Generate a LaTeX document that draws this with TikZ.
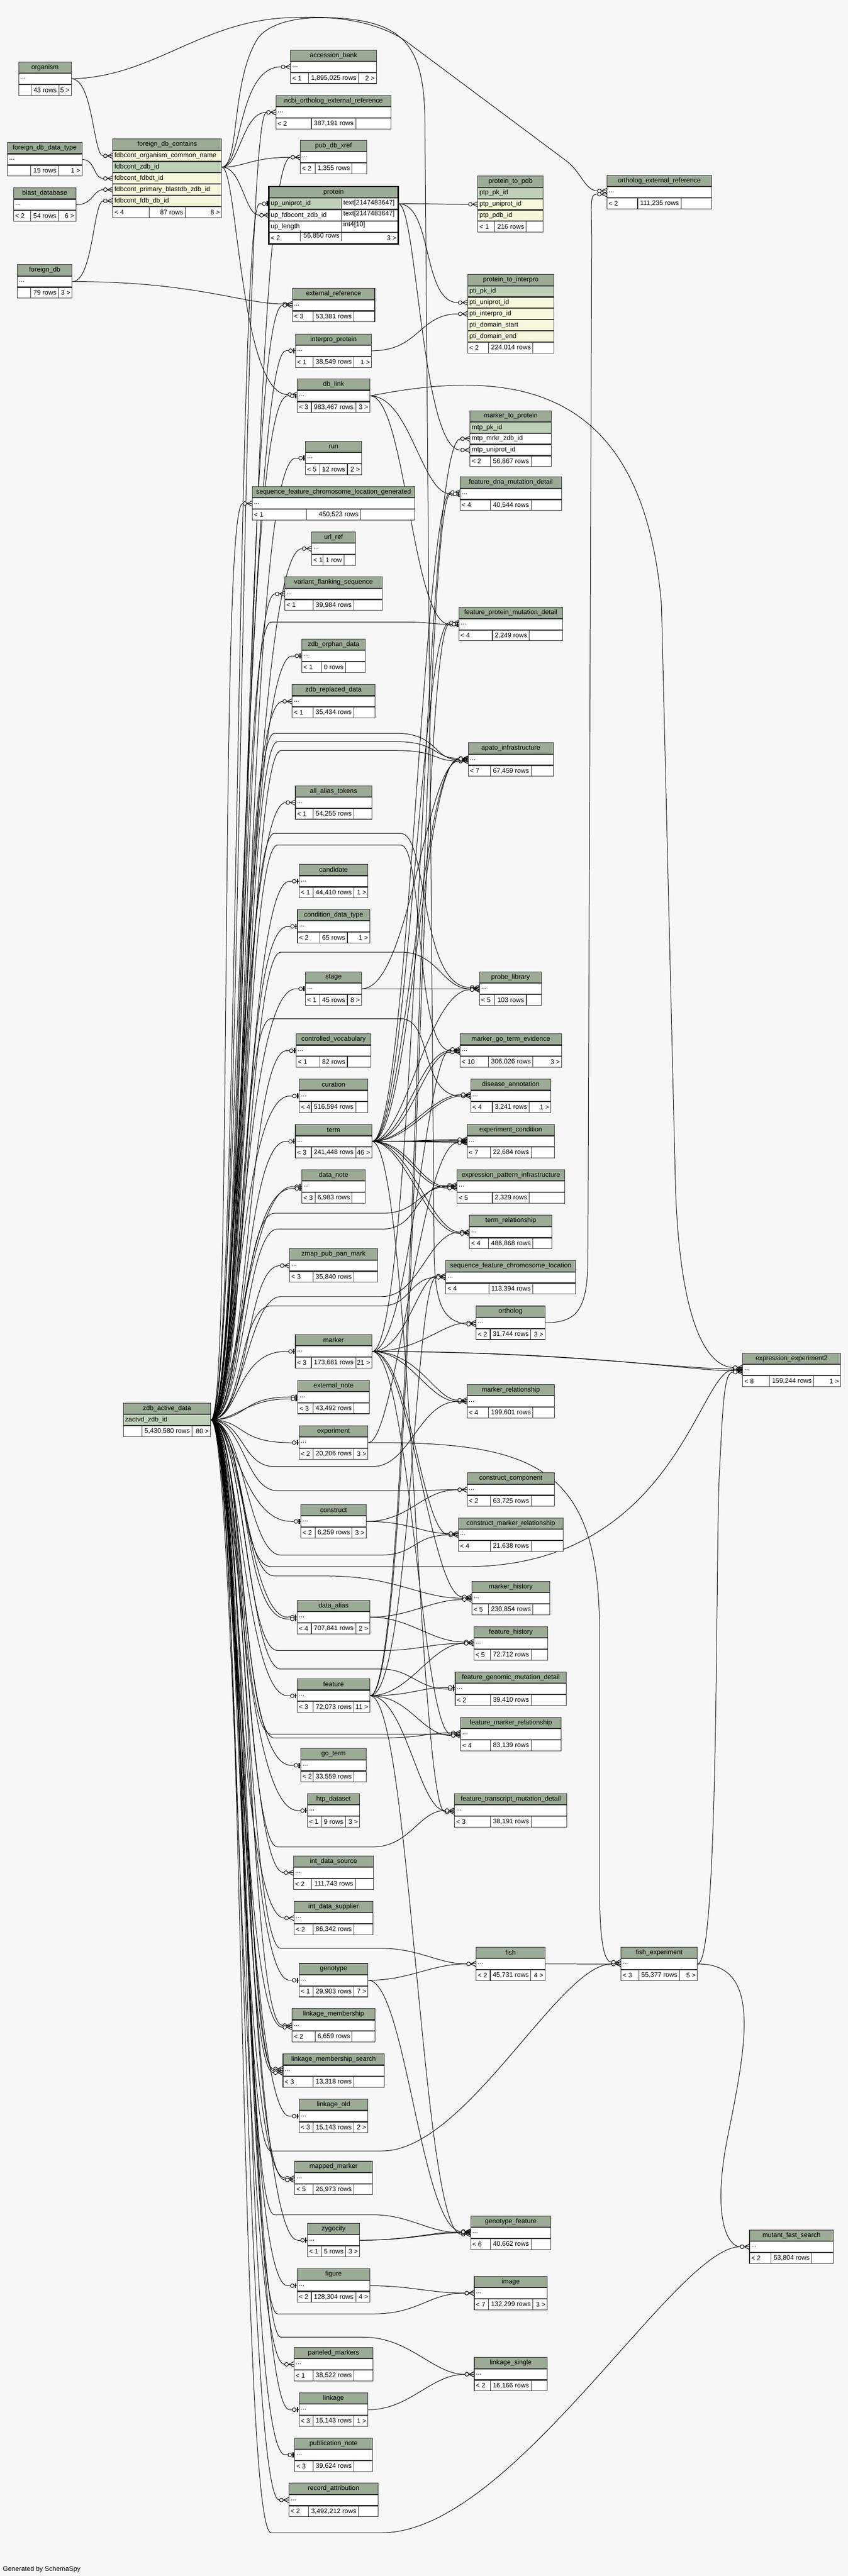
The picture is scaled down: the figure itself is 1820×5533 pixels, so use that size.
\documentclass[tikz,border=0pt]{standalone}
\usepackage{fontspec}
\setmainfont{Liberation Sans}
\pgfdeclarelayer{bg}
\pgfdeclarelayer{edges}
\pgfsetlayers{bg,edges,main}
\definecolor{bgc}{HTML}{F7F7F7}
\definecolor{hdrc}{HTML}{9BAB96}
\definecolor{pkc}{HTML}{BED1B8}
\definecolor{idxc}{HTML}{F4F7DA}
\definecolor{framec}{HTML}{2E2E2E}
\newcommand{\tfont}{\fontsize{14.2}{17}\selectfont}
\tikzset{
  every node/.style={font=\tfont},
  cellbox/.style={draw=framec, line width=1.2pt, inner sep=0pt, anchor=north, minimum height=23pt},
  hdr/.style={cellbox, fill=hdrc, minimum height=23.5pt},
  body/.style={cellbox, fill=white},
  foot/.style={cellbox, fill=white},
  midcell/.style={draw=framec, line width=1.2pt, inner xsep=5pt, inner ysep=0pt, minimum height=23pt},
  txt/.style={inner sep=0pt},
  fkline/.style={line width=1.1pt, black}
}
% table parts
\newcommand{\tblhead}[4]{\node[hdr, minimum width=#4pt] (#1-h) at (#2,#3) {\detokenize{#1}};}
\newcommand{\tblfoot}[6]{%
  \node[foot, minimum width=#3pt] (#1-f) at (#2.south) {};
  \node[midcell, minimum width=#3pt/3] (#1-m) at (#1-f.center) {\phantom{#5}};
  \node[txt, anchor=east] at ([xshift=-5pt]#1-m.east) {#5};
  \node[txt, anchor=west] at ([xshift=4pt]#1-f.west) {#4};
  \node[txt, anchor=east] at ([xshift=-4pt]#1-f.east) {#6};}
\newcommand{\tbl}[7]{%
  \tblhead{#1}{#2}{#3}{#4}
  \node[body, minimum width=#4pt] (#1) at (#1-h.south) {};
  \node[txt, anchor=west] at ([xshift=4pt]#1.west) {...};
  \tblfoot{#1}{#1}{#4}{#5}{#6}{#7}}
\newcommand{\colrow}[5]{%
  \node[body, fill=#4, minimum width=#5pt] (#1) at (#2.south) {};
  \node[txt, anchor=west] at ([xshift=4pt]#1.west) {\detokenize{#3}};}
% connector ends
\newcommand{\fkmarkmany}[1]{%
  \draw[fkline] ([xshift=-20pt]#1) -- (#1);
  \draw[fkline, fill=bgc] ([xshift=-15.5pt]#1) circle (4pt);
  \draw[fkline] ([xshift=-11pt]#1) -- ([yshift=5.5pt]#1) ([xshift=-11pt]#1) -- ([yshift=-5.5pt]#1);}
\newcommand{\fkmarkone}[1]{%
  \draw[fkline] ([xshift=-20pt]#1) -- (#1);
  \draw[fkline, fill=bgc] ([xshift=-10pt]#1) circle (4pt);
  \draw[line width=2.6pt] ([xshift=-3pt,yshift=5.5pt]#1) -- ([xshift=-3pt,yshift=-5.5pt]#1);}
\newcommand{\fk}[6][0]{%
  \coordinate (fk-s) at (#2);
  \coordinate (fk-e) at ([yshift=#1pt]#3);
  \coordinate (fk-a) at (#5,0);
  \coordinate (fk-b) at (#6,0);
  \draw[fkline] (fk-s) .. controls (fk-s -| fk-a) and (fk-e -| fk-b) .. ([xshift=-20pt]fk-e);
  \csname fkmark#4\endcsname{fk-e}}
\newcommand{\fkvia}[8][0]{%
  \coordinate (fk-e) at ([yshift=#1pt]#2);
  \coordinate (fk-c) at (#8,0);
  \draw[fkline] (zad.east) .. controls +(70,0) and (#5,#4) .. (#5+70,#4) -- (#6,#4)
    .. controls (#7,#4) and (fk-e -| fk-c) .. ([xshift=-20pt]fk-e);
  \csname fkmark#3\endcsname{fk-e}}

\begin{document}
\begin{tikzpicture}[x=1pt, y=-1pt]
  \useasboundingbox (0,0) rectangle (1820,5533);
  \begin{pgfonlayer}{bg}
    \fill[bgc] (0,0) rectangle (1820,5533);
  \end{pgfonlayer}

  \tbl{organism}{96.5}{132.5}{113}{}{43 rows}{5 >}
  \tbl{foreign_db_data_type}{96}{305.7}{160}{}{15 rows}{1 >}
  \tbl{blast_database}{96}{403}{133.5}{< 2}{54 rows}{6 >}
  \tbl{foreign_db}{96}{568}{117.6}{}{79 rows}{3 >}

  \tblhead{foreign_db_contains}{359}{298}{233.5}
  \colrow{fdbc-org}{foreign_db_contains-h}{fdbcont_organism_common_name}{idxc}{233.5}
  \colrow{fdbc-zdb}{fdbc-org}{fdbcont_zdb_id}{pkc}{233.5}
  \colrow{fdbc-dt}{fdbc-zdb}{fdbcont_fdbdt_id}{idxc}{233.5}
  \colrow{fdbc-blast}{fdbc-dt}{fdbcont_primary_blastdb_zdb_id}{idxc}{233.5}
  \colrow{fdbc-db}{fdbc-blast}{fdbcont_fdb_db_id}{idxc}{233.5}
  \tblfoot{foreign_db_contains}{fdbc-db}{233.5}{< 4}{87 rows}{8 >}

  \tblhead{zdb_active_data}{358.5}{3013}{187}
  \colrow{zad}{zdb_active_data-h}{zactvd_zdb_id}{pkc}{187}
  \tblfoot{zdb_active_data}{zad}{187}{}{5,430,580 rows}{80 >}

  \node[hdr, minimum width=277pt] (protein-h) at (716,400.5) {protein};
  \node[body, minimum width=277pt, minimum height=23.5pt] (prot-uid) at (protein-h.south) {};
  \node[body, minimum width=277pt, minimum height=23.5pt] (prot-fdb) at (prot-uid.south) {};
  \node[body, minimum width=277pt, minimum height=23.5pt] (prot-len) at (prot-fdb.south) {};
  \node[foot, minimum width=277pt, minimum height=23.5pt] (protein-f) at (prot-len.south) {};
  \node[body, fill=pkc, minimum width=155.5pt, minimum height=23.5pt, anchor=north west] at (prot-uid.north west) {};
  \draw[framec, line width=1.2pt] (733,424) -- (733,518) (645,494.5) -- (645,518);
  \node[txt, anchor=west] at ([xshift=4pt]prot-uid.west) {up\_uniprot\_id};
  \node[txt, anchor=west] at ([xshift=4pt]prot-fdb.west) {up\_fdbcont\_zdb\_id};
  \node[txt, anchor=west] at ([xshift=4pt]prot-len.west) {up\_length};
  \node[txt, anchor=west] at (737,435.75) {text[2147483647]};
  \node[txt, anchor=west] at (737,459.25) {text[2147483647]};
  \node[txt, anchor=west] at (737,482.75) {int4[10]};
  \node[txt, anchor=west] at ([xshift=4pt]protein-f.west) {< 2};
  \node[txt, anchor=east] at (729,506.25) {56,850 rows};
  \node[txt, anchor=east] at ([xshift=-4pt]protein-f.east) {3 >};
  \draw[line width=3pt] (protein-h.north west) rectangle (protein-f.south east);

  \tbl{accession_bank}{716}{106.8}{184}{< 1}{1,895,025 rows}{2 >}
  \tbl{ncbi_ortholog_external_reference}{716}{204.5}{247}{< 2}{387,191 rows}{}
  \tbl{pub_db_xref}{716}{301}{142.5}{< 2}{1,355 rows}{}
  \tbl{external_reference}{716}{619}{177}{< 3}{53,381 rows}{}
  \tbl{interpro_protein}{716}{716.6}{163.5}{< 1}{38,549 rows}{1 >}
  \tbl{db_link}{716}{813.6}{156}{< 3}{983,467 rows}{3 >}
  \tbl{run}{716}{947}{120.4}{< 5}{12 rows}{2 >}
  \tbl{sequence_feature_chromosome_location_generated}{716}{1044.7}{349}{< 1}{450,523 rows}{}
  \tbl{url_ref}{716}{1141.6}{94}{< 1}{1 row}{}
  \tbl{variant_flanking_sequence}{716}{1238.6}{209.7}{< 1}{39,984 rows}{}
  \tbl{zdb_orphan_data}{716}{1372}{136.6}{< 1}{0 rows}{}
  \tbl{zdb_replaced_data}{716}{1469.7}{177.5}{< 1}{35,434 rows}{}
  \tbl{all_alias_tokens}{716}{1687}{163.8}{< 1}{54,255 rows}{}
  \tbl{candidate}{716}{1856}{148}{< 1}{44,410 rows}{1 >}
  \tbl{condition_data_type}{716}{1953}{155}{< 2}{65 rows}{1 >}
  \tbl{stage}{716}{2087}{120.4}{< 1}{45 rows}{8 >}
  \tbl{controlled_vocabulary}{716}{2220}{160.3}{< 1}{82 rows}{}
  \tbl{curation}{716}{2317.3}{147}{< 4}{516,594 rows}{}
  \tbl{term}{716}{2414.8}{163.8}{< 3}{241,448 rows}{46 >}
  \tbl{data_note}{716}{2512}{136.6}{< 3}{6,983 rows}{}
  \tbl{zmap_pub_pan_mark}{716}{2681.6}{188.3}{< 3}{35,840 rows}{}
  \tbl{marker}{716}{2866}{163.8}{< 3}{173,681 rows}{21 >}
  \tbl{external_note}{716}{2964}{153}{< 3}{43,492 rows}{}
  \tbl{experiment}{716}{3061.7}{148}{< 2}{20,206 rows}{3 >}
  \tbl{construct}{716}{3231}{140.3}{< 2}{6,259 rows}{3 >}
  \tbl{data_alias}{716}{3436.6}{156}{< 4}{707,841 rows}{2 >}
  \tbl{feature}{716}{3605.5}{156}{< 3}{72,073 rows}{11 >}
  \tbl{go_term}{716}{3755}{140.3}{< 2}{33,559 rows}{}
  \tbl{htp_dataset}{716}{3852}{112}{< 1}{9 rows}{3 >}
  \tbl{int_data_source}{716}{3985.5}{172}{< 2}{111,743 rows}{}
  \tbl{int_data_supplier}{716}{4083}{169.5}{< 2}{86,342 rows}{}
  \tbl{genotype}{716}{4216.6}{148}{< 1}{29,903 rows}{7 >}
  \tbl{linkage_membership}{716}{4313.6}{177.5}{< 2}{6,659 rows}{}
  \tbl{linkage_membership_search}{716}{4411}{217}{< 3}{13,318 rows}{}
  \tbl{linkage_old}{716}{4508.5}{148}{< 3}{15,143 rows}{2 >}
  \tbl{mapped_marker}{716}{4641.5}{166.3}{< 5}{26,973 rows}{}
  \tbl{zygocity}{716}{4775}{112}{< 1}{5 rows}{3 >}
  \tbl{figure}{716}{4872.6}{156}{< 2}{128,304 rows}{4 >}
  \tbl{paneled_markers}{716}{5041.5}{169.5}{< 1}{38,522 rows}{}
  \tbl{linkage}{716}{5139}{148}{< 3}{15,143 rows}{1 >}
  \tbl{publication_note}{716}{5236}{166.3}{< 3}{39,624 rows}{}
  \tbl{record_attribution}{716}{5333}{191.7}{< 2}{3,492,212 rows}{}

  \tblhead{protein_to_pdb}{1095.9}{377.8}{140.3}
  \colrow{ptp-pk}{protein_to_pdb-h}{ptp_pk_id}{pkc}{140.3}
  \colrow{ptp-uid}{ptp-pk}{ptp_uniprot_id}{idxc}{140.3}
  \colrow{ptp-pdb}{ptp-uid}{ptp_pdb_id}{idxc}{140.3}
  \tblfoot{protein_to_pdb}{ptp-pdb}{140.3}{< 1}{216 rows}{}

  \tblhead{protein_to_interpro}{1096.5}{589}{185}
  \colrow{pti-pk}{protein_to_interpro-h}{pti_pk_id}{pkc}{185}
  \colrow{pti-uid}{pti-pk}{pti_uniprot_id}{idxc}{185}
  \colrow{pti-iid}{pti-uid}{pti_interpro_id}{idxc}{185}
  \colrow{pti-start}{pti-iid}{pti_domain_start}{idxc}{185}
  \colrow{pti-end}{pti-start}{pti_domain_end}{idxc}{185}
  \tblfoot{protein_to_interpro}{pti-end}{185}{< 2}{224,014 rows}{}

  \tblhead{marker_to_protein}{1096.5}{881.4}{175}
  \colrow{mtp-pk}{marker_to_protein-h}{mtp_pk_id}{pkc}{175}
  \colrow{mtp-mrkr}{mtp-pk}{mtp_mrkr_zdb_id}{white}{175}
  \colrow{mtp-uid}{mtp-mrkr}{mtp_uniprot_id}{white}{175}
  \tblfoot{marker_to_protein}{mtp-uid}{175}{< 2}{56,867 rows}{}

  \tbl{feature_dna_mutation_detail}{1096.5}{1024}{217.8}{< 4}{40,544 rows}{}
  \tbl{feature_protein_mutation_detail}{1096.5}{1304}{223}{< 4}{2,249 rows}{}
  \tbl{apato_infrastructure}{1096.5}{1595}{182.8}{< 7}{67,459 rows}{}
  \tbl{probe_library}{1096}{2087}{133}{< 5}{103 rows}{}
  \tbl{marker_go_term_evidence}{1096.5}{2220}{217.8}{< 10}{306,026 rows}{3 >}
  \tbl{disease_annotation}{1096.5}{2317.3}{172}{< 4}{3,241 rows}{1 >}
  \tbl{experiment_condition}{1096.5}{2414.8}{187.4}{< 7}{22,684 rows}{}
  \tbl{expression_pattern_infrastructure}{1096.5}{2512}{230.7}{< 5}{2,329 rows}{}
  \tbl{term_relationship}{1096.5}{2609.7}{177}{< 4}{486,868 rows}{}
  \tbl{sequence_feature_chromosome_location}{1096.5}{2707}{279}{< 4}{113,394 rows}{}
  \tbl{ortholog}{1096}{2804.6}{148}{< 2}{31,744 rows}{3 >}
  \tbl{marker_relationship}{1096.5}{2973.5}{187.4}{< 4}{199,601 rows}{}
  \tbl{construct_component}{1096.5}{3163}{187.4}{< 2}{63,725 rows}{}
  \tbl{construct_marker_relationship}{1096.5}{3260}{225.3}{< 4}{21,638 rows}{}
  \tbl{marker_history}{1096.5}{3396}{167}{< 5}{230,854 rows}{}
  \tbl{feature_history}{1096.5}{3493}{159}{< 5}{72,712 rows}{}
  \tbl{feature_genomic_mutation_detail}{1096.5}{3590.7}{238.8}{< 2}{39,410 rows}{}
  \tbl{feature_marker_relationship}{1096.5}{3688}{215.2}{< 4}{83,139 rows}{}
  \tbl{feature_transcript_mutation_detail}{1096.5}{3852}{241.3}{< 3}{38,191 rows}{}
  \tbl{fish}{1096}{4181.4}{148}{< 2}{45,731 rows}{4 >}
  \tbl{genotype_feature}{1096.5}{4759}{172}{< 6}{40,662 rows}{}
  \tbl{image}{1096.3}{4888.5}{156.5}{< 7}{132,299 rows}{3 >}
  \tbl{linkage_single}{1096.3}{5063}{156.5}{< 2}{16,166 rows}{}

  \tbl{ortholog_external_reference}{1415.4}{376.3}{225.3}{< 2}{111,235 rows}{}
  \tbl{fish_experiment}{1415}{4181.7}{164}{< 3}{55,377 rows}{5 >}
  \tbl{expression_experiment2}{1699.4}{2905.5}{210}{< 8}{159,244 rows}{1 >}
  \tbl{mutant_fast_search}{1699}{4789}{180}{< 2}{53,804 rows}{}

  \node[txt, anchor=west] (credit) at (6,5519) {Generated by SchemaSpy};

  \begin{pgfonlayer}{edges}
    \fk{organism.east}{fdbc-org.west}{many}{200}{200}
    \fk{foreign_db_data_type.east}{fdbc-dt.west}{many}{205}{200}
    \fk{blast_database.east}{fdbc-blast.west}{many}{200}{200}
    \fk{foreign_db.east}{fdbc-db.west}{many}{200}{200}
    \fk[3]{foreign_db.east}{external_reference.west}{many}{420}{520}
    \foreach \ch/\dy/\xa/\xb in {accession_bank/0/520/510, ncbi_ortholog_external_reference/0/515/520,
        pub_db_xref/0/525/540, prot-fdb/0/520/525, db_link/3/510/515}
      {\fk[\dy]{fdbc-zdb.east}{\ch.west}{many}{\xa}{\xb}}

    \foreach \ch/\mk/\dy [count=\i] in {ncbi_ortholog_external_reference/many/0, pub_db_xref/many/0,
        prot-uid/one/0, external_reference/many/0, interpro_protein/one/0, db_link/one/0, run/one/0,
        url_ref/many/0, variant_flanking_sequence/many/0, zdb_orphan_data/one/0,
        zdb_replaced_data/many/0, all_alias_tokens/many/0, candidate/one/0,
        condition_data_type/one/0, stage/one/0, controlled_vocabulary/one/0, curation/one/0,
        term/one/0, data_note/one/0, data_note/one/-4, zmap_pub_pan_mark/many/0,
        marker/one/0, external_note/one/0, external_note/one/-4, experiment/one/0,
        construct/one/0, data_alias/one/0, data_alias/one/-4, feature/one/0,
        go_term/one/0, htp_dataset/one/0, int_data_source/many/0, int_data_supplier/many/0,
        genotype/one/0, linkage_membership/many/0, linkage_membership/many/-4,
        linkage_membership_search/many/4, linkage_membership_search/many/0,
        linkage_membership_search/many/-4, linkage_old/one/0, mapped_marker/many/0,
        mapped_marker/many/-4, zygocity/one/0, figure/one/0, paneled_markers/many/0,
        linkage/one/0, publication_note/one/0, record_attribution/many/0}
      {\pgfmathsetmacro\xa{500+mod(\i*17,40)}
       \pgfmathsetmacro\xb{505+mod(\i*11,30)}
       \fk[\dy]{zad.east}{\ch.west}{\mk}{\xa}{\xb}}
    \fk{zad.east}{sequence_feature_chromosome_location_generated.west}{many}{500}{470}

    \foreach \ch/\mk/\dy/\gy/\ex/\px/\qx [count=\i] in {
        apato_infrastructure/many/0/1575/850/940/930,
        apato_infrastructure/many/3/1593/850/940/930,
        apato_infrastructure/many/-3/1612/850/940/930,
        feature_protein_mutation_detail/many/0/1336/860/930/920,
        probe_library/many/3/1790/860/920/900,
        marker_go_term_evidence/many/0/1815/860/910/890,
        probe_library/many/0/2045/860/940/950,
        disease_annotation/many/0/2188/860/930/900,
        expression_pattern_infrastructure/many/0/2606/820/900/900,
        expression_pattern_infrastructure/many/3/2640/820/900/890,
        term_relationship/many/0/2785/820/900/920,
        sequence_feature_chromosome_location/many/0/2805/820/880/880,
        marker_relationship/many/0/3150/800/880/900,
        construct_component/many/0/3202/850/920/930,
        construct_marker_relationship/many/0/3340/820/890/890,
        expression_experiment2/many/0/3365/1000/1450/1500,
        marker_history/many/0/3385/700/850/900,
        feature_history/many/0/3545/820/900/920,
        feature_genomic_mutation_detail/one/0/3585/820/880/900,
        feature_marker_relationship/many/0/3725/820/900/920,
        feature_marker_relationship/many/3/3733/820/900/920,
        feature_transcript_mutation_detail/many/0/3967/800/880/900,
        fish/many/0/4185/820/900/940,
        fish_experiment/many/0/4620/820/1000/1200,
        genotype_feature/many/0/4757/800/880/920,
        image/many/0/4970/800/900/920,
        linkage_single/many/0/5020/780/880/930,
        mutant_fast_search/many/0/5440/820/1100/1450}
      {\pgfmathsetmacro\tx{512+mod(\i*7,28)}
       \fkvia[\dy]{\ch.west}{\mk}{\gy}{\tx}{\ex}{\px}{\qx}}

    \foreach \pa/\ch/\mk/\dy/\xa/\xb in {
        prot-uid/ptp-uid/many/0/940/940, prot-uid/pti-uid/many/0/930/905,
        prot-uid/mtp-uid/many/0/895/905, interpro_protein/pti-iid/many/0/900/900,
        db_link/feature_dna_mutation_detail/many/0/880/905,
        db_link/feature_protein_mutation_detail/many/0/870/885,
        stage/probe_library/many/0/900/950,
        stage/apato_infrastructure/many/-3/880/915,
        term/disease_annotation/many/0/880/930,
        term/disease_annotation/many/3/870/925,
        term/experiment_condition/many/0/900/930,
        term/experiment_condition/many/2/900/930,
        term/experiment_condition/many/-2/900/930,
        term/experiment_condition/many/4/900/930,
        term/expression_pattern_infrastructure/many/0/880/900,
        term/expression_pattern_infrastructure/many/-3/870/895,
        term/term_relationship/many/0/880/925,
        term/term_relationship/many/-3/870/915,
        term/marker_go_term_evidence/many/0/870/900,
        term/marker_go_term_evidence/many/-3/880/910,
        term/apato_infrastructure/many/0/870/905,
        term/apato_infrastructure/many/2/880/910,
        term/probe_library/many/-2/870/920,
        term/feature_dna_mutation_detail/many/3/875/910,
        term/feature_protein_mutation_detail/many/3/875/905,
        term/feature_transcript_mutation_detail/many/-3/880/900,
        marker/mtp-mrkr/many/0/895/905, marker/ortholog/many/0/900/950,
        marker/marker_relationship/many/0/880/920,
        marker/marker_relationship/many/3/900/935,
        marker/marker_go_term_evidence/many/3/880/915,
        marker/sequence_feature_chromosome_location/many/3/870/900,
        marker/construct_marker_relationship/many/0/880/905,
        marker/marker_history/many/3/880/925,
        marker/feature_marker_relationship/many/0/880/905,
        marker/expression_experiment2/many/2/1200/1450,
        marker/expression_experiment2/many/-2/1250/1480,
        experiment/experiment_condition/many/-3/850/905,
        construct/construct_component/many/0/880/905,
        construct/construct_marker_relationship/many/3/880/905,
        data_alias/marker_history/many/-3/880/925,
        data_alias/feature_history/many/3/880/925,
        feature/feature_history/many/0/880/925,
        feature/feature_genomic_mutation_detail/one/3/880/905,
        feature/feature_marker_relationship/many/-3/880/905,
        feature/feature_transcript_mutation_detail/many/0/870/900,
        feature/feature_dna_mutation_detail/one/0/890/905,
        feature/feature_protein_mutation_detail/one/0/890/900,
        feature/genotype_feature/many/-3/880/905,
        feature/sequence_feature_chromosome_location/many/0/880/890,
        genotype/fish/many/0/880/925, genotype/genotype_feature/many/3/870/905,
        zygocity/genotype_feature/many/0/880/925,
        zygocity/genotype_feature/many/2/880/925,
        figure/image/many/0/880/925, linkage/linkage_single/many/0/880/925,
        fish/fish_experiment/many/0/1250/1250}
      {\fk[\dy]{\pa.east}{\ch.west}{\mk}{\xa}{\xb}}

    \coordinate (ol-in) at ([yshift=-3pt]ortholog.west);
    \draw[fkline] (organism.east) .. controls (330,165) and (430,45) .. (620,38)
      .. controls (850,30) and (908,70) .. (912,250) -- (932,2700)
      .. controls (935,2810) and (955,2836.6) .. ([xshift=-20pt]ol-in);
    \fkmarkmany{ol-in}
    \coordinate (oer-a) at ([yshift=3pt]ortholog_external_reference.west);
    \coordinate (oer-b) at ([yshift=-4pt]ortholog_external_reference.west);
    \draw[fkline] (fdbc-zdb.east) .. controls (515,355) and (495,170) .. (555,80)
      .. controls (610,15) and (800,30) .. (880,95) -- (1215,345)
      .. controls (1250,372) and (1255,408.3) .. ([xshift=-20pt]oer-a);
    \fkmarkmany{oer-a}
    \draw[fkline] (ortholog.east) .. controls (1235,2839.6) and (1262,2820) .. (1262,2700)
      -- (1270,560) .. controls (1272,450) and (1262,415.3) .. ([xshift=-20pt]oer-b);
    \fkmarkmany{oer-b}
    \coordinate (ee-a) at ([yshift=5pt]expression_experiment2.west);
    \coordinate (ee-b) at ([yshift=-5pt]expression_experiment2.west);
    \draw[fkline] (db_link.east) .. controls (1100,790) and (1380,820) .. (1420,1300)
      -- (1450,2550) .. controls (1460,2850) and (1520,2935.5) .. ([xshift=-20pt]ee-a);
    \fkmarkmany{ee-a}
    \draw[fkline] (fish_experiment.east) .. controls (1545,4216.7) and (1535,3300) .. (1545,3150)
      .. controls (1552,3010) and (1555,2945.5) .. ([xshift=-20pt]ee-b);
    \fkmarkmany{ee-b}
    \coordinate (fe-a) at ([yshift=4pt]fish_experiment.west);
    \draw[fkline] (experiment.east) .. controls (1150,3096.7) and (1285,3150) .. (1287,3500)
      -- (1287,4050) .. controls (1287,4190) and (1300,4212.7) .. ([xshift=-20pt]fe-a);
    \fkmarkmany{fe-a}
    \draw[fkline] (fish_experiment.east) .. controls (1640,4216.7) and (1600,4400) .. (1560,4600)
      .. controls (1530,4760) and (1560,4824) .. ([xshift=-20pt]mutant_fast_search.west);
    \fkmarkmany{mutant_fast_search.west}
  \end{pgfonlayer}
\end{tikzpicture}
\end{document}
